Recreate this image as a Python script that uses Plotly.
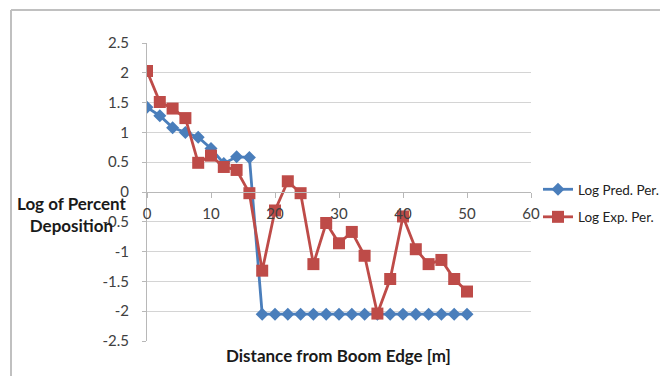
import plotly.graph_objects as go

# Distance from boom edge [m]
distance = [0, 2, 4, 6, 8, 10, 12, 14, 16, 18, 20, 22, 24, 26, 28, 30, 32, 34,
            36, 38, 40, 42, 44, 46, 48, 50]

# Log of predicted percent deposition
log_pred = [1.42, 1.28, 1.08, 1.00, 0.92, 0.73, 0.48, 0.59, 0.58, -2.05, -2.05,
            -2.05, -2.05, -2.05, -2.05, -2.05, -2.05, -2.05, -2.05, -2.05, -2.05,
            -2.05, -2.05, -2.05, -2.05, -2.05]

# Log of experimental percent deposition
log_exp = [2.03, 1.51, 1.40, 1.24, 0.49, 0.61, 0.42, 0.37, -0.02, -1.32, -0.31,
           0.18, -0.02, -1.21, -0.52, -0.86, -0.67, -1.07, -2.04, -1.46, -0.41,
           -0.96, -1.21, -1.14, -1.46, -1.67]

x_ticks = [0, 10, 20, 30, 40, 50, 60]
y_ticks = [2.5, 2, 1.5, 1, 0.5, 0, -0.5, -1, -1.5, -2, -2.5]

FONT = "Lato"
BLUE = "#4a7ebb"
RED = "#be4b48"
GRID = "#d4d4d4"
TEXT = "#404040"

W, H = 660, 376
L, R, T, B = 147, 129, 43, 35
pw, ph = W - L - R, H - T - B


def px_x(p):
    return (p - L) / pw


def px_y(p):
    return (H - B - p) / ph


fig = go.Figure()
fig.add_trace(go.Scatter(
    x=distance, y=log_pred, name="Log Pred. Per.", mode="lines+markers",
    line=dict(color=BLUE, width=2.8),
    marker=dict(symbol="diamond", size=10, color=BLUE),
    legendgroup="a",
))
fig.add_trace(go.Scatter(
    x=distance, y=log_exp, name="Log Exp. Per.", mode="lines+markers",
    line=dict(color=RED, width=2.8),
    marker=dict(symbol="square", size=12, color=RED),
    legendgroup="b",
))

fig.update_layout(
    width=W, height=H,
    margin=dict(l=L, r=R, t=T, b=B, autoexpand=False),
    paper_bgcolor="white", plot_bgcolor="white",
    font=dict(family=FONT, size=15, color=TEXT),
    showlegend=True,
    legend=dict(
        x=px_x(538), y=px_y(174), xanchor="left", yanchor="top",
        font=dict(family=FONT, size=13.5, color="#222222"),
        tracegroupgap=7, itemwidth=30,
        bgcolor="rgba(0,0,0,0)",
    ),
    xaxis=dict(
        range=[0, 60], tickvals=x_ticks, ticktext=[str(v) for v in x_ticks],
        showgrid=False, zeroline=False,
        showline=True, linecolor="#b8b8b8", linewidth=1,
        ticks="outside", ticklen=5, tickcolor="#b8b8b8",
        anchor="free", position=0.5,
        ticklabelstandoff=3,
        tickfont=dict(family=FONT, size=15, color=TEXT),
    ),
    yaxis=dict(
        range=[-2.5, 2.5], tickvals=y_ticks, ticktext=[("%g" % v) for v in y_ticks],
        showgrid=True, gridcolor=GRID, gridwidth=1, zeroline=False,
        showline=True, linecolor="#b8b8b8", linewidth=1,
        ticks="outside", ticklen=4, tickcolor="#b8b8b8",
        ticklabelstandoff=10,
        tickfont=dict(family=FONT, size=15, color=TEXT),
    ),
)

# Axis titles
fig.add_annotation(
    text="<b>Log of Percent<br>Deposition</b>", xref="paper", yref="paper",
    x=px_x(72), y=px_y(214), xanchor="center", yanchor="middle",
    showarrow=False, align="center",
    font=dict(family=FONT, size=17, color="#1a1a1a"),
)
fig.add_annotation(
    text="<b>Distance from Boom Edge [m]</b>", xref="paper", yref="paper",
    x=px_x(338), y=px_y(355), xanchor="center", yanchor="middle",
    showarrow=False,
    font=dict(family=FONT, size=17, color="#1a1a1a"),
)

# Chart frame (top and left edges)
fig.add_shape(type="line", xref="paper", yref="paper",
              x0=px_x(11), x1=px_x(662), y0=px_y(10), y1=px_y(10),
              line=dict(color="#c0c0c0", width=2))
fig.add_shape(type="line", xref="paper", yref="paper",
              x0=px_x(11), x1=px_x(11), y0=px_y(10), y1=px_y(380),
              line=dict(color="#c0c0c0", width=2))

fig.write_html("out.html")
